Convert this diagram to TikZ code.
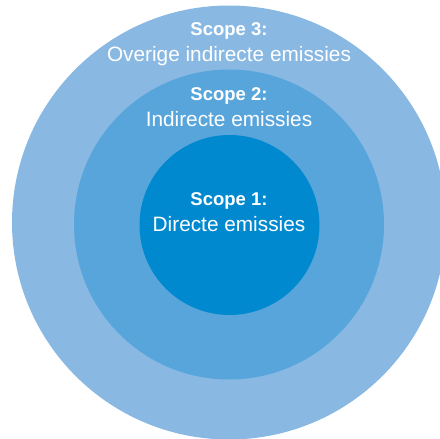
\documentclass[tikz,border=0pt]{standalone}
\usepackage{fontspec}
\setmainfont{Liberation Sans}
\definecolor{outerblue}{HTML}{89B9E3}
\definecolor{midblue}{HTML}{58A5DB}
\definecolor{innerblue}{HTML}{0089CE}
\tikzset{
  ring/.style={circle, draw=none, inner sep=0pt},
  title/.style={anchor=base, text=white, inner sep=0pt, font=\fontsize{18.5}{20}\selectfont\bfseries},
  desc/.style={anchor=base, text=white, inner sep=0pt, font=\fontsize{20.8}{24}\selectfont},
}
\begin{document}
\begin{tikzpicture}[x=1pt,y=-1pt]
\useasboundingbox (0,0) rectangle (440,439);
\clip (0,0) rectangle (440,439);
\node[ring, fill=outerblue, minimum size=434pt] (s3) at (229,222.5) {};
\node[ring, fill=midblue, minimum size=310pt] (s2) at (229,224.5) {};
\node[ring, fill=innerblue, minimum size=180pt] (s1) at (229.5,225) {};
\node[title] (t3) at (229,35) {Scope 3:};
\node[desc] (d3) at (229,61.7) {Overige indirecte emissies};
\node[title] (t2) at (229,100) {Scope 2:};
\node[desc] (d2) at (229,126.7) {Indirecte emissies};
\node[title] (t1) at (229,205) {Scope 1:};
\node[desc] (d1) at (229,231.7) {Directe emissies};
\end{tikzpicture}
\end{document}
